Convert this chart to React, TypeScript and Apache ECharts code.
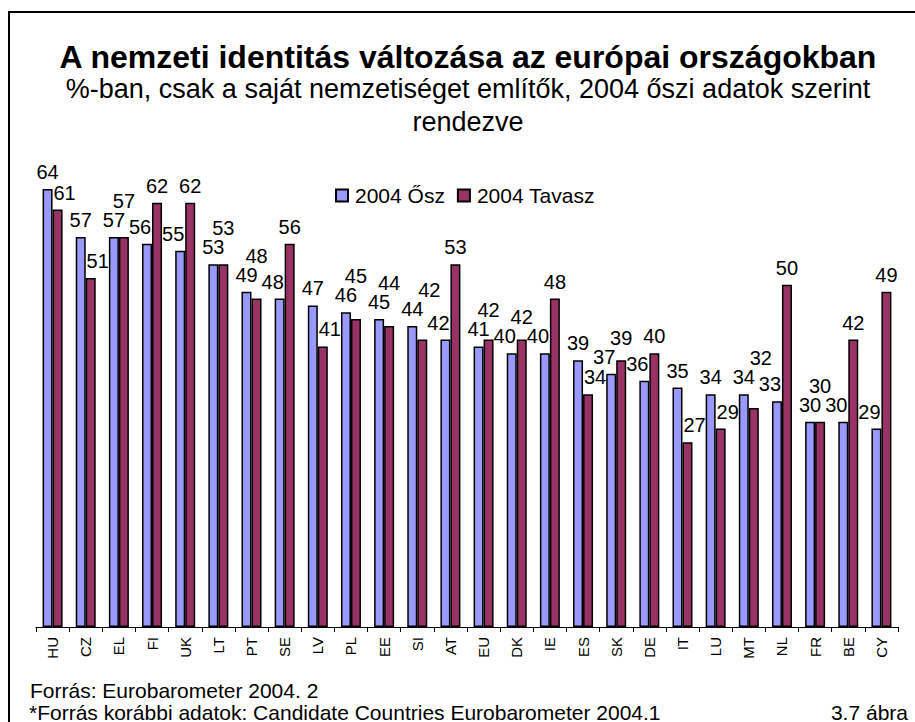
import React, { useEffect, useRef } from "react";
import * as echarts from "echarts";

const categories = ["HU", "CZ", "EL", "FI", "UK", "LT", "PT", "SE", "LV", "PL", "EE", "SI", "AT", "EU", "DK", "IE", "ES", "SK", "DE", "IT", "LU", "MT", "NL", "FR", "BE", "CY"];
const autumn2004 = [64, 57, 57, 56, 55, 53, 49, 48, 47, 46, 45, 44, 42, 41, 40, 40, 39, 37, 36, 35, 34, 34, 33, 30, 30, 29];
const spring2004 = [61, 51, 57, 62, 62, 53, 48, 56, 41, 45, 44, 42, 53, 42, 42, 48, 34, 39, 40, 27, 29, 32, 50, 30, 42, 49];
const seriesNames = ["2004 Ősz", "2004 Tavasz"];
const titleText = "A nemzeti identitás változása az európai országokban";
const subtitleLines = ["%-ban, csak a saját nemzetiséget említők, 2004 őszi adatok szerint", "rendezve"];
const footerLines = ["Forrás: Eurobarometer 2004. 2", "*Forrás korábbi adatok: Candidate Countries Eurobarometer 2004.1"];
const figureNote = "3.7 ábra";

const FONT = "'Liberation Sans', Arial, sans-serif";
const seriesValues = [autumn2004, spring2004];

export default function App() {
  const ref = useRef<HTMLDivElement>(null);
  useEffect(() => {
    if (!ref.current) return;
    const chart = echarts.init(ref.current, undefined, { renderer: "svg" });
    const LABEL_DIST = 7;
    const labelCfg = {
      show: true,
      position: "top" as const,
      distance: LABEL_DIST,
      fontSize: 20,
      color: "#000",
      fontFamily: FONT,
    };
    const BAR_W = 10;
    chart.setOption({
      animation: false,
      backgroundColor: "#fff",
      textStyle: { fontFamily: FONT, color: "#000" },
      legend: {
        top: 180,
        left: 330,
        itemWidth: 12,
        itemHeight: 12,
        itemGap: 12,
        icon: "rect",
        textStyle: { fontSize: 21, color: "#000", fontFamily: FONT, padding: [0, 0, 0, 2] },
        data: seriesNames,
      },
      grid: { left: 36, right: 17, top: 148, bottom: 95, containLabel: false },
      xAxis: {
        type: "category",
        data: categories,
        boundaryGap: true,
        axisLine: { lineStyle: { color: "#000", width: 1 } },
        axisTick: { show: true, length: 5, alignWithLabel: false, lineStyle: { color: "#000" } },
        axisLabel: { rotate: 90, fontSize: 15, color: "#000", margin: 10, fontFamily: FONT, interval: 0 },
      },
      yAxis: {
        type: "value",
        min: 0,
        max: 70,
        show: false,
        splitLine: { show: false },
      },
      series: [
        {
          name: seriesNames[0],
          type: "bar",
          data: autumn2004,
          barWidth: BAR_W,
          barGap: "0%",
          itemStyle: { color: "#9999FF", borderColor: "#000", borderWidth: 1.5 },
          label: labelCfg,
        },
        {
          name: seriesNames[1],
          type: "bar",
          data: spring2004,
          barWidth: BAR_W,
          barGap: "0%",
          itemStyle: { color: "#993366", borderColor: "#000", borderWidth: 1.5 },
          label: labelCfg,
        },
      ],
      graphic: [
        {
          type: "rect",
          shape: { x: 9, y: 12, width: 930, height: 730 },
          style: { fill: "none", stroke: "#000", lineWidth: 2 },
          silent: true,
        },
        {
          type: "text",
          x: 468,
          y: 57,
          style: { text: titleText, fontSize: 32, fontWeight: "bold", fill: "#000", fontFamily: FONT, align: "center", verticalAlign: "middle" },
        },
        {
          type: "text",
          x: 468,
          y: 89,
          style: { text: subtitleLines[0], fontSize: 27, fill: "#000", fontFamily: FONT, align: "center", verticalAlign: "middle" },
        },
        {
          type: "text",
          x: 468,
          y: 122,
          style: { text: subtitleLines[1], fontSize: 27, fill: "#000", fontFamily: FONT, align: "center", verticalAlign: "middle" },
        },
        {
          type: "text",
          x: 30,
          y: 690,
          style: { text: footerLines[0], fontSize: 21, fill: "#000", fontFamily: FONT, verticalAlign: "middle" },
        },
        {
          type: "text",
          x: 29,
          y: 712,
          style: { text: footerLines[1], fontSize: 21, fill: "#000", fontFamily: FONT, verticalAlign: "middle" },
        },
        {
          type: "text",
          x: 908,
          y: 712,
          style: { text: figureNote, fontSize: 21, fill: "#000", fontFamily: FONT, align: "right", verticalAlign: "middle" },
        },
      ],
    });

    // Label placement plan: nudge labels sideways off a taller neighbour bar,
    // and lift labels that would collide with an already placed one.
    const LW = 23;
    const LH = 19;
    const plan: { dx: number; dy: number }[][] = [[], []];
    const placed: { x: number; y: number }[] = [];
    for (let i = 0; i < categories.length; i++) {
      for (let s = 0; s < 2; s++) {
        const v = seriesValues[s][i];
        const w = seriesValues[1 - s][i];
        const p = chart.convertToPixel({ gridIndex: 0 }, [i, v]) as number[];
        const q = chart.convertToPixel({ gridIndex: 0 }, [i, w]) as number[];
        const cx = p[0] + (s === 0 ? -BAR_W / 2 : BAR_W / 2);
        const top = p[1];
        const otherTop = q[1];
        const y0 = top - LABEL_DIST - 10;
        let dx = 0;
        if (otherTop < top && y0 + LH / 2 > otherTop) dx = s === 0 ? -7 : 7;
        const x = cx + dx;
        let y = y0;
        let moved = true;
        while (moved) {
          moved = false;
          for (const o of placed) {
            if (Math.abs(o.x - x) < LW && Math.abs(o.y - y) < LH) {
              y = o.y - LH;
              moved = true;
            }
          }
        }
        placed.push({ x, y });
        plan[s][i] = { dx, dy: y - y0 };
      }
    }
    const makeLayout = (s: number) => (params: any) => plan[s][params.dataIndex] || { dx: 0, dy: 0 };
    chart.setOption({
      series: [{ labelLayout: makeLayout(0) }, { labelLayout: makeLayout(1) }],
    });
    return () => chart.dispose();
  }, []);
  return (
    <div
      ref={ref}
      style={{ position: "fixed", left: 0, top: 0, width: 915, height: 722 }}
    />
  );
}
